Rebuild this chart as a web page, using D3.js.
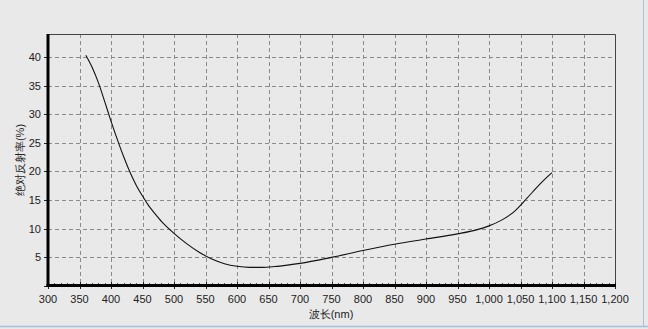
<!DOCTYPE html>
<html>
<head>
<meta charset="utf-8">
<script src="https://cdn.jsdelivr.net/npm/d3@7"></script>
<style>
  html, body { margin: 0; padding: 0; background: #e9e9e9; }
  svg { display: block; }
  text { font-family: "Liberation Sans", Arial, sans-serif; fill: #222; }
</style>
</head>
<body>
<div id="chart"></div>
<script>
// wavelength (nm) and absolute reflectance (%)
const wavelength = [360, 370, 380, 390, 400, 410, 420, 430, 440, 450, 460, 470, 480, 490, 500,
  520, 540, 560, 580, 600, 620, 640, 660, 680, 700, 750, 800, 850, 900, 950, 980, 1000,
  1020, 1040, 1060, 1080, 1090, 1100];
const reflectance = [40.3, 38.2, 35.5, 32.2, 28.8, 25.6, 22.6, 19.9, 17.6, 15.7, 14.0, 12.6, 11.3, 10.2, 9.2,
  7.4, 5.9, 4.7, 3.9, 3.45, 3.25, 3.25, 3.4, 3.65, 3.95, 5.0, 6.2, 7.3, 8.2, 9.1, 9.8, 10.5,
  11.5, 13.0, 15.3, 17.7, 18.8, 19.8];

const xTicks = d3.range(300, 1201, 50);
const yTicks = [5, 10, 15, 20, 25, 30, 35, 40];
const xTitle = "波长(nm)";
const yTitle = "绝对反射率(%)";

const width = 648, height = 329;
const plotLeft = 48, plotRight = 615, plotTop = 34, plotBottom = 286;

const svg = d3.select("#chart").append("svg")
  .attr("width", width)
  .attr("height", height);

svg.append("rect")
  .attr("width", width).attr("height", height)
  .attr("fill", "#e9e9e9");

// window frame edges
svg.append("line").attr("x1", 0).attr("x2", width).attr("y1", 326.5).attr("y2", 326.5)
  .attr("stroke", "#a9c0da").attr("stroke-width", 1.5);
svg.append("line").attr("x1", 643.5).attr("x2", 643.5).attr("y1", 0).attr("y2", 327)
  .attr("stroke", "#a9c0da").attr("stroke-width", 1);

const x = d3.scaleLinear().domain([300, 1200]).range([plotLeft, plotRight]);
const y = d3.scaleLinear().domain([0, 44]).range([plotBottom, plotTop]);

// grid
const grid = svg.append("g").attr("stroke", "#8a8a8a").attr("stroke-dasharray", "4,3").attr("stroke-width", 1);
xTicks.filter(d => d > 300 && d < 1200).forEach(d => {
  grid.append("line")
    .attr("x1", Math.round(x(d)) + 0.5).attr("x2", Math.round(x(d)) + 0.5)
    .attr("y1", plotTop).attr("y2", plotBottom);
});
yTicks.forEach(d => {
  grid.append("line")
    .attr("x1", plotLeft).attr("x2", plotRight)
    .attr("y1", Math.round(y(d)) + 0.5).attr("y2", Math.round(y(d)) + 0.5);
});

// top / right border
svg.append("path")
  .attr("d", `M${plotLeft},${plotTop + 0.5}H${plotRight + 0.5}V${plotBottom}`)
  .attr("fill", "none").attr("stroke", "#444").attr("stroke-width", 1);

// x axis: minor ticks inward, majors outward
const xAxis = svg.append("g");
d3.range(300, 1201, 10).forEach(d => {
  const major = d % 50 === 0;
  xAxis.append("line")
    .attr("stroke", major ? "#222" : "#555")
    .attr("x1", Math.round(x(d)) + 0.5).attr("x2", Math.round(x(d)) + 0.5)
    .attr("y1", plotBottom - (major ? 4 : 3)).attr("y2", plotBottom + (major ? 3 : 0));
});
svg.selectAll(".xlab").data(xTicks).join("text")
  .attr("class", "xlab")
  .attr("x", d => x(d))
  .attr("y", 303)
  .attr("text-anchor", "middle")
  .attr("font-size", 11)
  .text(d => d3.format(",")(d));

// y axis
const yAxis = svg.append("g").attr("stroke", "#222");
[0].concat(yTicks).forEach(d => {
  yAxis.append("line")
    .attr("x1", plotLeft - 4).attr("x2", plotLeft)
    .attr("y1", Math.round(y(d)) + 0.5).attr("y2", Math.round(y(d)) + 0.5);
});
svg.selectAll(".ylab").data(yTicks).join("text")
  .attr("class", "ylab")
  .attr("x", 41)
  .attr("y", d => y(d) + 4)
  .attr("text-anchor", "end")
  .attr("font-size", 11)
  .text(d => d);

// thick axis lines
svg.append("line").attr("x1", plotLeft).attr("x2", plotLeft).attr("y1", plotTop).attr("y2", plotBottom + 1)
  .attr("stroke", "#000").attr("stroke-width", 3);
svg.append("line").attr("x1", plotLeft - 1.5).attr("x2", plotRight + 1).attr("y1", plotBottom - 0.5).attr("y2", plotBottom - 0.5)
  .attr("stroke", "#000").attr("stroke-width", 3);

// curve
const pts = wavelength.map((w, i) => [w, reflectance[i]]);
svg.append("path")
  .datum(pts)
  .attr("fill", "none")
  .attr("stroke", "#111")
  .attr("stroke-width", 1.1)
  .attr("d", d3.line().x(d => x(d[0])).y(d => y(d[1])).curve(d3.curveMonotoneX));

// titles
svg.append("text")
  .attr("x", 331).attr("y", 318)
  .attr("text-anchor", "middle")
  .attr("font-size", 11)
  .text(xTitle);
svg.append("text")
  .attr("transform", "translate(24,160) rotate(-90)")
  .attr("text-anchor", "middle")
  .attr("font-size", 11)
  .text(yTitle);
</script>
</body>
</html>
